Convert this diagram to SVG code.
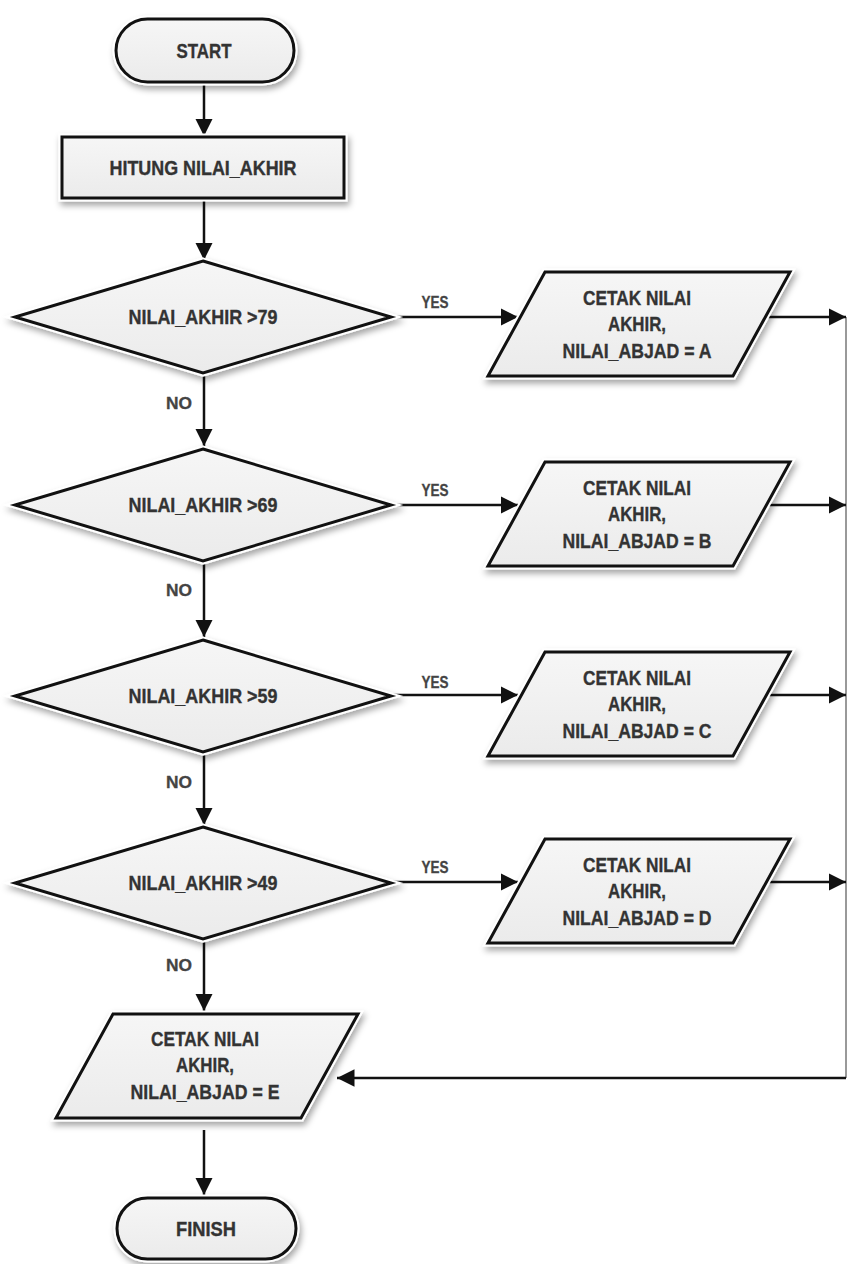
<svg xmlns="http://www.w3.org/2000/svg" xmlns:xlink="http://www.w3.org/1999/xlink" width="847" height="1264" viewBox="0 0 847 1264">
  <style>
    .halo { fill: #ffffff; stroke: #ffffff; stroke-width: 7; stroke-linejoin: miter; filter: url(#shadow); }
    .body { fill: url(#fillGrad); stroke: #111111; stroke-width: 3; stroke-linejoin: miter; }
    .lbl { font-family: "Liberation Sans", Arial, sans-serif; font-weight: bold; font-size: 20px; fill: #333333; stroke: #333333; stroke-width: 0.35; text-anchor: middle; }
    .tag { font-family: "Liberation Sans", Arial, sans-serif; font-weight: bold; font-size: 16px; fill: #444444; stroke: #444444; stroke-width: 0.3; text-anchor: middle; }
    .wire { fill: none; stroke: #111111; stroke-width: 2.5; }
    .rail { fill: none; stroke: #777777; stroke-width: 1.5; }
  </style>
  <defs>
    <filter id="shadow" x="-10%" y="-20%" width="130%" height="160%">
      <feDropShadow dx="2" dy="4" stdDeviation="3" flood-color="#000000" flood-opacity="0.35"/>
    </filter>
    <linearGradient id="fillGrad" x1="0" y1="0" x2="0" y2="1">
      <stop offset="0" stop-color="#f6f6f6"/>
      <stop offset="1" stop-color="#ebebeb"/>
    </linearGradient>
    <marker id="arrow" viewBox="0 0 10 10" refX="10" refY="5" markerWidth="7" markerHeight="7" markerUnits="strokeWidth" orient="auto">
      <path d="M0,0 L10,5 L0,10 z" fill="#111111"/>
    </marker>
    <polygon id="para" points="57,0 302,0 245,104 0,104"/>
    <polygon id="diam" points="0,-56 188,0 0,56 -188,0"/>
  </defs>

  <rect width="847" height="1264" fill="#ffffff"/>

  <!-- connectors -->
  <g id="connectors">
    <line class="wire" x1="204" y1="84" x2="204" y2="136" marker-end="url(#arrow)"/>
    <line class="wire" x1="204" y1="200" x2="204" y2="260" marker-end="url(#arrow)"/>
    <line class="wire" x1="204" y1="373" x2="204" y2="446" marker-end="url(#arrow)"/>
    <line class="wire" x1="204" y1="562" x2="204" y2="637" marker-end="url(#arrow)"/>
    <line class="wire" x1="204" y1="752" x2="204" y2="825" marker-end="url(#arrow)"/>
    <line class="wire" x1="204" y1="939" x2="204" y2="1011" marker-end="url(#arrow)"/>
    <line class="wire" x1="204" y1="1130" x2="204" y2="1195" marker-end="url(#arrow)"/>

    <line class="wire" x1="392" y1="317" x2="518" y2="317" marker-end="url(#arrow)"/>
    <line class="wire" x1="392" y1="505" x2="518" y2="505" marker-end="url(#arrow)"/>
    <line class="wire" x1="392" y1="695" x2="518" y2="695" marker-end="url(#arrow)"/>
    <line class="wire" x1="392" y1="882" x2="518" y2="882" marker-end="url(#arrow)"/>

    <line class="rail" x1="846" y1="317" x2="846" y2="1078"/>
    <line class="wire" x1="765" y1="317" x2="846" y2="317" marker-end="url(#arrow)"/>
    <line class="wire" x1="765" y1="505" x2="846" y2="505" marker-end="url(#arrow)"/>
    <line class="wire" x1="765" y1="695" x2="846" y2="695" marker-end="url(#arrow)"/>
    <line class="wire" x1="765" y1="882" x2="846" y2="882" marker-end="url(#arrow)"/>
    <line class="wire" x1="846" y1="1078" x2="337" y2="1078" marker-end="url(#arrow)"/>

    <text class="tag" x="435" y="308" textLength="27" lengthAdjust="spacingAndGlyphs">YES</text>
    <text class="tag" x="435" y="496" textLength="27" lengthAdjust="spacingAndGlyphs">YES</text>
    <text class="tag" x="435" y="688" textLength="27" lengthAdjust="spacingAndGlyphs">YES</text>
    <text class="tag" x="435" y="873" textLength="27" lengthAdjust="spacingAndGlyphs">YES</text>
    <text class="tag" x="179" y="409" textLength="26" lengthAdjust="spacingAndGlyphs">NO</text>
    <text class="tag" x="179" y="596" textLength="26" lengthAdjust="spacingAndGlyphs">NO</text>
    <text class="tag" x="179" y="788" textLength="26" lengthAdjust="spacingAndGlyphs">NO</text>
    <text class="tag" x="179" y="971" textLength="26" lengthAdjust="spacingAndGlyphs">NO</text>
  </g>

  <!-- start terminator -->
  <g id="start">
    <rect class="halo" x="116" y="19" width="178" height="63" rx="31.5"/>
    <rect class="body" x="116" y="19" width="178" height="63" rx="31.5"/>
    <text class="lbl" x="204" y="58" textLength="55" lengthAdjust="spacingAndGlyphs">START</text>
  </g>

  <!-- process -->
  <g id="hitung">
    <rect class="halo" x="62" y="137" width="282" height="61"/>
    <rect class="body" x="62" y="137" width="282" height="61"/>
    <text class="lbl" x="203" y="175" textLength="187" lengthAdjust="spacingAndGlyphs">HITUNG NILAI_AKHIR</text>
  </g>

  <!-- decisions -->
  <g id="cek79" transform="translate(203,317)">
    <use href="#diam" class="halo"/>
    <use href="#diam" class="body"/>
    <text class="lbl" x="0" y="7" textLength="149" lengthAdjust="spacingAndGlyphs">NILAI_AKHIR &gt;79</text>
  </g>
  <g id="cek69" transform="translate(203,505)">
    <use href="#diam" class="halo"/>
    <use href="#diam" class="body"/>
    <text class="lbl" x="0" y="7" textLength="149" lengthAdjust="spacingAndGlyphs">NILAI_AKHIR &gt;69</text>
  </g>
  <g id="cek59" transform="translate(203,696)">
    <use href="#diam" class="halo"/>
    <use href="#diam" class="body"/>
    <text class="lbl" x="0" y="7" textLength="149" lengthAdjust="spacingAndGlyphs">NILAI_AKHIR &gt;59</text>
  </g>
  <g id="cek49" transform="translate(203,883)">
    <use href="#diam" class="halo"/>
    <use href="#diam" class="body"/>
    <text class="lbl" x="0" y="7" textLength="149" lengthAdjust="spacingAndGlyphs">NILAI_AKHIR &gt;49</text>
  </g>

  <!-- outputs -->
  <g id="cetakA" transform="translate(488,272)">
    <use href="#para" class="halo"/>
    <use href="#para" class="body"/>
    <text class="lbl" x="149" y="33" textLength="108" lengthAdjust="spacingAndGlyphs">CETAK NILAI</text>
    <text class="lbl" x="149" y="59" textLength="58" lengthAdjust="spacingAndGlyphs">AKHIR,</text>
    <text class="lbl" x="149" y="86" textLength="149" lengthAdjust="spacingAndGlyphs">NILAI_ABJAD = A</text>
  </g>
  <g id="cetakB" transform="translate(488,462)">
    <use href="#para" class="halo"/>
    <use href="#para" class="body"/>
    <text class="lbl" x="149" y="33" textLength="108" lengthAdjust="spacingAndGlyphs">CETAK NILAI</text>
    <text class="lbl" x="149" y="59" textLength="58" lengthAdjust="spacingAndGlyphs">AKHIR,</text>
    <text class="lbl" x="149" y="86" textLength="149" lengthAdjust="spacingAndGlyphs">NILAI_ABJAD = B</text>
  </g>
  <g id="cetakC" transform="translate(488,652)">
    <use href="#para" class="halo"/>
    <use href="#para" class="body"/>
    <text class="lbl" x="149" y="33" textLength="108" lengthAdjust="spacingAndGlyphs">CETAK NILAI</text>
    <text class="lbl" x="149" y="59" textLength="58" lengthAdjust="spacingAndGlyphs">AKHIR,</text>
    <text class="lbl" x="149" y="86" textLength="149" lengthAdjust="spacingAndGlyphs">NILAI_ABJAD = C</text>
  </g>
  <g id="cetakD" transform="translate(488,839)">
    <use href="#para" class="halo"/>
    <use href="#para" class="body"/>
    <text class="lbl" x="149" y="33" textLength="108" lengthAdjust="spacingAndGlyphs">CETAK NILAI</text>
    <text class="lbl" x="149" y="59" textLength="58" lengthAdjust="spacingAndGlyphs">AKHIR,</text>
    <text class="lbl" x="149" y="86" textLength="149" lengthAdjust="spacingAndGlyphs">NILAI_ABJAD = D</text>
  </g>
  <g id="cetakE" transform="translate(56,1014)">
    <use href="#para" class="halo"/>
    <use href="#para" class="body"/>
    <text class="lbl" x="149" y="32" textLength="108" lengthAdjust="spacingAndGlyphs">CETAK NILAI</text>
    <text class="lbl" x="149" y="58" textLength="58" lengthAdjust="spacingAndGlyphs">AKHIR,</text>
    <text class="lbl" x="149" y="85" textLength="149" lengthAdjust="spacingAndGlyphs">NILAI_ABJAD = E</text>
  </g>

  <!-- finish terminator -->
  <g id="finish">
    <rect class="halo" x="117" y="1198" width="179" height="61" rx="30.5"/>
    <rect class="body" x="117" y="1198" width="179" height="61" rx="30.5"/>
    <text class="lbl" x="206" y="1236" textLength="60" lengthAdjust="spacingAndGlyphs">FINISH</text>
  </g>
</svg>
